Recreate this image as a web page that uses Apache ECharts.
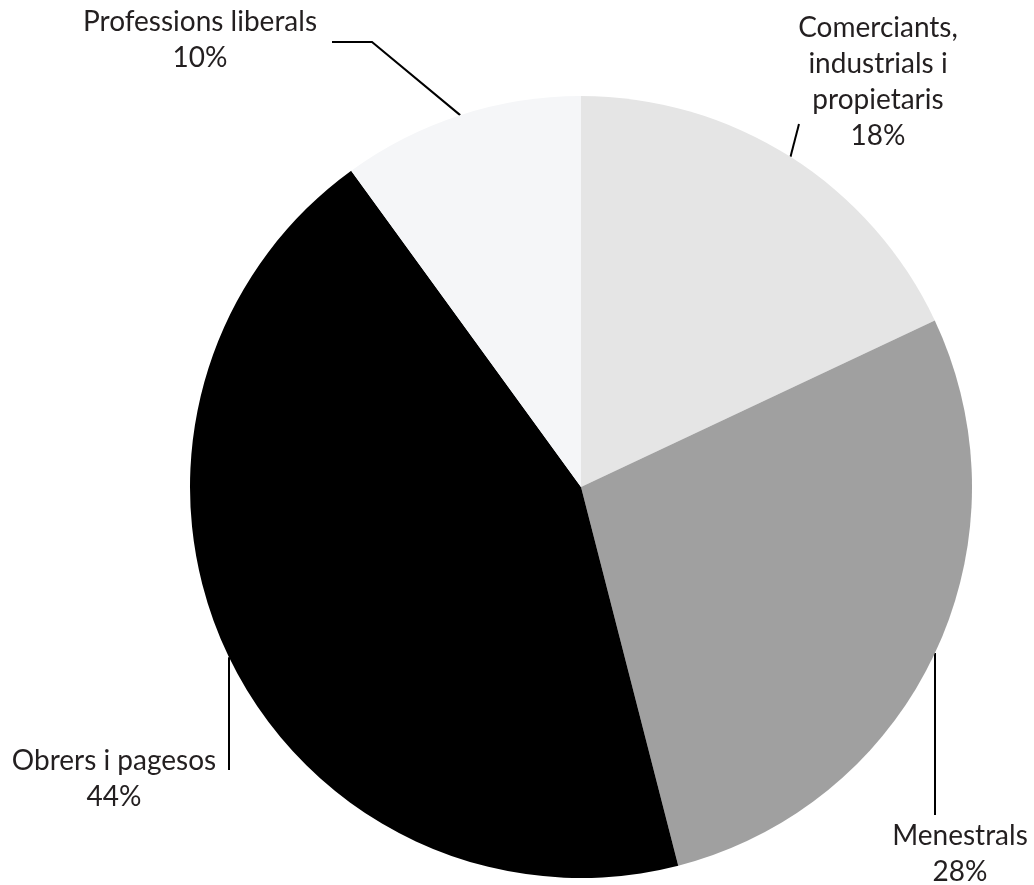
<!DOCTYPE html>
<html>
<head>
<meta charset="utf-8">
<script src="https://cdn.jsdelivr.net/npm/echarts@6/dist/echarts.min.js"></script>
<style>html,body{margin:0;padding:0;background:#fff;}#c{width:1034px;height:885px;}</style>
</head>
<body>
<div id="c"></div>
<script>
const categories = ['Comerciants,\nindustrials i\npropietaris', 'Menestrals', 'Obrers i pagesos', 'Professions liberals'];
const values = [18, 28, 44, 10];
const colors = ['#e5e5e5', '#a0a0a0', '#000000', '#f5f6f8'];

const CX = 581, CY = 487, R = 391;
// label anchors (centre of text block) and leader-line elbows
const labelPos = [
  {x: 878, y: 82, elbow: [799, 124], end: [799, 124]},
  {x: 960, y: 854, vx: 935, endY: 815},
  {x: 114, y: 779, vx: 229, endY: 770},
  {x: 200, y: 40, elbow: [372, 42], end: [332, 42]}
];

const chart = echarts.init(document.getElementById('c'));
chart.setOption({
  animation: false,
  series: [{
    type: 'pie',
    center: [CX, CY],
    radius: R,
    startAngle: 90,
    clockwise: true,
    avoidLabelOverlap: false,
    data: categories.map((n, i) => ({name: n, value: values[i], itemStyle: {color: colors[i]}})),
    label: {
      show: true,
      position: 'outside',
      formatter: '{b}\n{c}%',
      fontFamily: 'Lato',
      fontSize: 28,
      lineHeight: 36,
      color: '#231f20',
      align: 'center'
    },
    labelLine: {show: true, lineStyle: {color: '#000', width: 2}},
    emphasis: {disabled: true},
    labelLayout: function (p) {
      const L = labelPos[p.dataIndex];
      let pts;
      if (L.vx !== undefined) {
        const dy = Math.sqrt(R * R - (L.vx - CX) * (L.vx - CX));
        const sy = CY + dy;
        pts = [[L.vx, sy], [L.vx, L.endY], [L.vx, L.endY]];
      } else {
        pts = [p.labelLinePoints[0], L.elbow, L.end];
      }
      return {x: L.x, y: L.y, align: 'center', verticalAlign: 'middle', labelLinePoints: pts};
    }
  }]
});
</script>
</body>
</html>
